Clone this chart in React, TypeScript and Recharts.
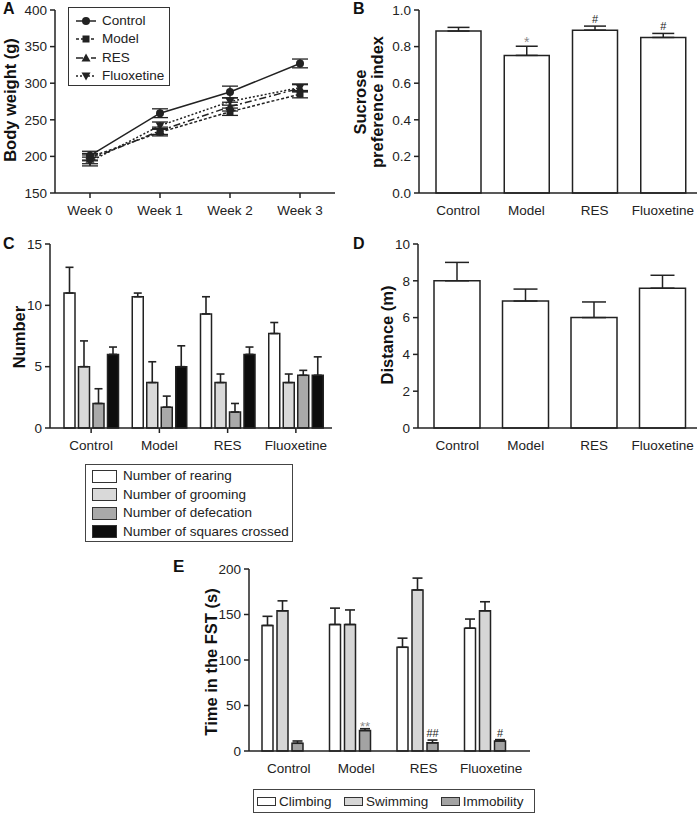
import React from "react";
import {
  LineChart,
  Line,
  BarChart,
  Bar,
  XAxis,
  YAxis,
  ErrorBar,
  Legend,
  LabelList,
} from "recharts";

const FONT = '"Liberation Sans", Arial, Helvetica, sans-serif';
const INK = "#222";

// A: body weight over weeks
const weeks = ["Week 0", "Week 1", "Week 2", "Week 3"];
const weightControl = [201, 259, 288, 327];
const weightControlErr = [6, 6, 8, 6];
const weightModel = [199, 233, 261, 285];
const weightModelErr = [5, 5, 5, 5];
const weightRes = [196, 235, 268, 293];
const weightResErr = [6, 5, 6, 5];
const weightFluox = [193, 242, 275, 294];
const weightFluoxErr = [6, 5, 5, 5];
const weightTicks = [150, 200, 250, 300, 350, 400];

const groups = ["Control", "Model", "RES", "Fluoxetine"];

// B: sucrose preference
const sucrose = [0.885, 0.752, 0.89, 0.85];
const sucroseErr = [0.02, 0.05, 0.022, 0.022];
const sucroseMarks = ["", "*", "#", "#"];
const sucroseTicks = [0, 0.2, 0.4, 0.6, 0.8, 1.0];

// C: open field counts
const rearing = [11, 10.7, 9.3, 7.7];
const rearingErr = [2.1, 0.3, 1.4, 0.9];
const grooming = [5, 3.7, 3.7, 3.7];
const groomingErr = [2.1, 1.7, 0.7, 0.7];
const defecation = [2, 1.7, 1.3, 4.3];
const defecationErr = [1.2, 0.9, 0.7, 0.4];
const squares = [6, 5, 6, 4.3];
const squaresErr = [0.6, 1.7, 0.6, 1.5];
const numberTicks = [0, 5, 10, 15];

// D: distance
const distance = [8, 6.9, 6.0, 7.6];
const distanceErr = [1.0, 0.65, 0.85, 0.7];
const distanceTicks = [0, 2, 4, 6, 8, 10];

// E: forced swim test
const climbing = [138, 139, 114, 135];
const climbingErr = [10, 18, 10, 10];
const swimming = [154, 139, 177, 154];
const swimmingErr = [11, 16, 13, 10];
const immobility = [8.5, 22.5, 9, 11];
const immobilityErr = [2.5, 2, 3, 1.5];
const immobilityMarks = ["", "**", "##", "#"];
const fstTicks = [0, 50, 100, 150, 200];

const weightSeries = [
  { key: "control", name: "Control", dash: undefined, shape: "circle", values: weightControl, errs: weightControlErr },
  { key: "model", name: "Model", dash: "3 2", shape: "square", values: weightModel, errs: weightModelErr },
  { key: "res", name: "RES", dash: "7 3 2 3", shape: "up", values: weightRes, errs: weightResErr },
  { key: "fluox", name: "Fluoxetine", dash: "2 2", shape: "down", values: weightFluox, errs: weightFluoxErr },
];

const behaviorSeries = [
  { key: "rearing", name: "Number of rearing", fill: "#ffffff", values: rearing, errs: rearingErr },
  { key: "grooming", name: "Number of grooming", fill: "#d9d9d9", values: grooming, errs: groomingErr },
  { key: "defecation", name: "Number of defecation", fill: "#a9a9a9", values: defecation, errs: defecationErr },
  { key: "squares", name: "Number of squares crossed", fill: "#0d0d0d", values: squares, errs: squaresErr },
];

const fstSeries = [
  { key: "climbing", name: "Climbing", fill: "#ffffff", values: climbing, errs: climbingErr },
  { key: "swimming", name: "Swimming", fill: "#d6d6d6", values: swimming, errs: swimmingErr },
  { key: "immobility", name: "Immobility", fill: "#a3a3a3", values: immobility, errs: immobilityErr },
];

const weightData = weeks.map((week, i) => {
  const row: Record<string, any> = { week };
  weightSeries.forEach((s) => {
    row[s.key] = s.values[i];
    row[s.key + "Err"] = s.errs[i];
  });
  return row;
});

const sucroseData = groups.map((name, i) => ({ name, value: sucrose[i], err: [0, sucroseErr[i]] }));
const distanceData = groups.map((name, i) => ({ name, value: distance[i], err: [0, distanceErr[i]] }));

// one-sided (upward) error bars for the grouped bar panels
const groupedRows = (series: { key: string; values: number[]; errs: number[] }[]) =>
  groups.map((name, i) => {
    const row: Record<string, any> = { name };
    series.forEach((s) => {
      row[s.key] = s.values[i];
      row[s.key + "Err"] = [0, s.errs[i]];
    });
    return row;
  });

const behaviorData = groupedRows(behaviorSeries);
const fstData = groupedRows(fstSeries);

const axisLine = { stroke: INK, strokeWidth: 1.5 };
const tickStyle = { fill: INK, fontSize: 13.5, fontFamily: FONT };

function Marker({ shape, cx, cy }: any) {
  if (shape === "circle") return <circle cx={cx} cy={cy} r={4} fill={INK} />;
  if (shape === "square") return <rect x={cx - 3.5} y={cy - 3.5} width={7} height={7} fill={INK} />;
  if (shape === "up")
    return <polygon points={`${cx},${cy - 4.5} ${cx + 4.5},${cy + 3.5} ${cx - 4.5},${cy + 3.5}`} fill={INK} />;
  return <polygon points={`${cx},${cy + 4.5} ${cx + 4.5},${cy - 3.5} ${cx - 4.5},${cy - 3.5}`} fill={INK} />;
}

// significance marks sit just above the error bar cap
const makeMarks =
  (errs: number[], marks: string[], o: { starSize: number; hashSize: number; starShift: number; hashShift: number }) =>
  (props: any) => {
    const vb = props.viewBox ?? props;
    const i = props.index;
    const mark = marks[i];
    if (!mark) return null;
    const v = Number(props.value);
    const ppu = vb.height / v;
    const top = vb.y - errs[i] * ppu;
    const star = mark.startsWith("*");
    return (
      <text
        key={`mark-${i}`}
        x={vb.x + vb.width / 2}
        y={top + (star ? o.starShift : -o.hashShift)}
        textAnchor="middle"
        fontFamily={FONT}
        fontSize={star ? o.starSize : o.hashSize}
        fill={star ? "#8a8a8a" : INK}
      >
        {mark}
      </text>
    );
  };

const WeightLegend = () => (
  <div
    style={{
      border: "1px solid #333",
      boxSizing: "border-box",
      width: 102,
      height: 79,
      padding: "4px 0 0 6px",
      fontFamily: FONT,
      fontSize: 13.5,
      color: INK,
      background: "#fff",
    }}
  >
    {weightSeries.map((s) => (
      <div key={s.key} style={{ display: "flex", alignItems: "center", height: 18.3, lineHeight: "18px" }}>
        <svg width={22} height={12} style={{ marginRight: 5 }}>
          <line x1={1} y1={6} x2={21} y2={6} stroke={INK} strokeWidth={1.5} strokeDasharray={s.dash} />
          <Marker shape={s.shape} cx={11} cy={6} />
        </svg>
        <span>{s.name}</span>
      </div>
    ))}
  </div>
);

const BehaviorLegend = () => (
  <div
    style={{
      border: "1px solid #444",
      boxSizing: "border-box",
      width: 208,
      height: 78,
      padding: "2px 0 0 6px",
      fontFamily: FONT,
      fontSize: 13.5,
      color: INK,
      background: "#fff",
    }}
  >
    {behaviorSeries.map((s) => (
      <div key={s.key} style={{ display: "flex", alignItems: "center", height: 18.5, lineHeight: "18px" }}>
        <span
          style={{
            display: "inline-block",
            width: 25,
            height: 13,
            boxSizing: "border-box",
            border: "1px solid #333",
            background: s.fill,
            marginRight: 6,
          }}
        />
        <span>{s.name}</span>
      </div>
    ))}
  </div>
);

const FstLegend = () => (
  <div
    style={{
      border: "1px solid #444",
      boxSizing: "border-box",
      width: 282,
      height: 24,
      padding: "0 0 0 3px",
      display: "flex",
      alignItems: "center",
      fontFamily: FONT,
      fontSize: 13.5,
      color: INK,
      background: "#fff",
    }}
  >
    {fstSeries.map((s) => (
      <div key={s.key} style={{ display: "flex", alignItems: "center", marginRight: 12.5 }}>
        <span
          style={{
            display: "inline-block",
            width: 19,
            height: 9,
            boxSizing: "border-box",
            border: "1px solid #333",
            background: s.fill,
            marginRight: 3,
          }}
        />
        <span>{s.name}</span>
      </div>
    ))}
  </div>
);

const AxisTitle = ({ x, y, children }: any) => (
  <div
    style={{
      position: "absolute",
      left: x,
      top: y,
      transform: "translate(-50%, -50%) rotate(-90deg)",
      whiteSpace: "nowrap",
      fontFamily: FONT,
      fontWeight: "bold",
      fontSize: 16.5,
      lineHeight: "17px",
      color: "#111",
      textAlign: "center",
    }}
  >
    {children}
  </div>
);

const PanelLetter = ({ x, y, size = 16, children }: any) => (
  <div
    style={{
      position: "absolute",
      left: x,
      top: y,
      fontFamily: FONT,
      fontWeight: "bold",
      fontSize: size,
      lineHeight: 1,
      color: "#111",
    }}
  >
    {children}
  </div>
);

const ShiftedTick = (props: any) => (
  <text x={props.x + 6} y={props.y} dy="0.71em" textAnchor="middle" {...tickStyle}>
    {props.payload.value}
  </text>
);

export default function App() {
  return (
    <div
      style={{
        position: "absolute",
        left: 0,
        top: 0,
        width: 700,
        height: 814,
        background: "#fff",
        overflow: "hidden",
      }}
    >
      {/* A */}
      <div style={{ position: "absolute", left: 0, top: 0 }}>
        <LineChart width={345} height={220} data={weightData} margin={{ top: 10, right: 10, left: 0, bottom: 0 }}>
          <XAxis
            dataKey="week"
            padding={{ left: 35, right: 35 }}
            height={27}
            tick={tickStyle}
            tickSize={5}
            tickMargin={7}
            axisLine={axisLine}
            tickLine={axisLine}
          />
          <YAxis
            domain={[150, 400]}
            ticks={weightTicks}
            interval={0}
            width={55}
            tick={tickStyle}
            tickSize={5}
            tickMargin={3}
            axisLine={axisLine}
            tickLine={axisLine}
          />
          {weightSeries.map((s) => (
            <Line
              key={s.key}
              dataKey={s.key}
              name={s.name}
              stroke={INK}
              strokeWidth={1.5}
              strokeDasharray={s.dash}
              isAnimationActive={false}
              dot={(p: any) => (
                <g key={`${s.key}-dot-${p.index}`}>
                  <Marker shape={s.shape} cx={p.cx} cy={p.cy} />
                </g>
              )}
            >
              <ErrorBar dataKey={s.key + "Err"} width={8} stroke={INK} strokeWidth={1.3} />
            </Line>
          ))}
          <Legend
            layout="vertical"
            align="center"
            verticalAlign="middle"
            content={WeightLegend}
            wrapperStyle={{ left: 68, top: 7, width: 102, height: 79 }}
          />
        </LineChart>
      </div>

      {/* B */}
      <div style={{ position: "absolute", left: 350, top: 0 }}>
        <BarChart width={350} height={220} data={sucroseData} margin={{ top: 10, right: 3, left: 0, bottom: 0 }}>
          <XAxis
            dataKey="name"
            padding={{ left: 5, right: 0 }}
            height={27}
            tick={tickStyle}
            tickSize={5}
            tickMargin={7}
            axisLine={axisLine}
            tickLine={false}
          />
          <YAxis
            domain={[0, 1]}
            ticks={sucroseTicks}
            interval={0}
            tickFormatter={(v: number) => v.toFixed(1)}
            width={69}
            tick={tickStyle}
            tickSize={5}
            tickMargin={3}
            axisLine={axisLine}
            tickLine={axisLine}
          />
          <Bar dataKey="value" fill="#fff" stroke={INK} strokeWidth={1.5} barSize={45} isAnimationActive={false}>
            <ErrorBar dataKey="err" width={11} stroke={INK} strokeWidth={1.5} />
            <LabelList
              dataKey="value"
              content={makeMarks(sucroseErr, sucroseMarks, { starSize: 14, hashSize: 11, starShift: 1, hashShift: 3 })}
            />
          </Bar>
        </BarChart>
      </div>

      {/* C */}
      <div style={{ position: "absolute", left: 0, top: 230 }}>
        <BarChart
          width={345}
          height={320}
          data={behaviorData}
          margin={{ top: 14, right: 13, left: 0, bottom: 95 }}
          barGap={3.5}
        >
          <XAxis
            dataKey="name"
            padding={{ left: 7, right: 2 }}
            height={27}
            tick={tickStyle}
            tickSize={5}
            tickMargin={7}
            axisLine={axisLine}
            tickLine={axisLine}
          />
          <YAxis
            domain={[0, 15]}
            ticks={numberTicks}
            interval={0}
            width={50}
            tick={tickStyle}
            tickSize={5}
            tickMargin={3}
            axisLine={axisLine}
            tickLine={axisLine}
          />
          {behaviorSeries.map((s) => (
            <Bar
              key={s.key}
              dataKey={s.key}
              name={s.name}
              fill={s.fill}
              stroke={INK}
              strokeWidth={1.5}
              barSize={11}
              isAnimationActive={false}
            >
              <ErrorBar dataKey={s.key + "Err"} width={4} stroke={INK} strokeWidth={1.6} />
            </Bar>
          ))}
          <Legend
            layout="vertical"
            align="center"
            verticalAlign="middle"
            content={BehaviorLegend}
            wrapperStyle={{ left: 85, top: 234, width: 208, height: 78 }}
          />
        </BarChart>
      </div>

      {/* D */}
      <div style={{ position: "absolute", left: 350, top: 230 }}>
        <BarChart width={350} height={240} data={distanceData} margin={{ top: 14, right: 3, left: 0, bottom: 15 }}>
          <XAxis
            dataKey="name"
            padding={{ left: 5, right: 0 }}
            height={27}
            tick={tickStyle}
            tickSize={5}
            tickMargin={7}
            axisLine={axisLine}
            tickLine={false}
          />
          <YAxis
            domain={[0, 10]}
            ticks={distanceTicks}
            interval={0}
            width={68}
            tick={tickStyle}
            tickSize={5}
            tickMargin={3}
            axisLine={axisLine}
            tickLine={axisLine}
          />
          <Bar dataKey="value" fill="#fff" stroke={INK} strokeWidth={1.5} barSize={46} isAnimationActive={false}>
            <ErrorBar dataKey="err" width={12} stroke={INK} strokeWidth={1.5} />
          </Bar>
        </BarChart>
      </div>

      {/* E */}
      <div style={{ position: "absolute", left: 190, top: 555 }}>
        <BarChart
          width={350}
          height={259}
          data={fstData}
          margin={{ top: 14, right: 10, left: 0, bottom: 36 }}
          barGap={4}
        >
          <XAxis
            dataKey="name"
            padding={{ left: 0, right: 11 }}
            height={27}
            tick={<ShiftedTick />}
            tickSize={5}
            tickMargin={7}
            axisLine={axisLine}
            tickLine={false}
          />
          <YAxis
            domain={[0, 200]}
            ticks={fstTicks}
            interval={0}
            width={59}
            tick={tickStyle}
            tickSize={5}
            tickMargin={3}
            axisLine={axisLine}
            tickLine={axisLine}
          />
          {fstSeries.map((s) => (
            <Bar
              key={s.key}
              dataKey={s.key}
              name={s.name}
              fill={s.fill}
              stroke={INK}
              strokeWidth={1.5}
              barSize={11}
              isAnimationActive={false}
            >
              <ErrorBar dataKey={s.key + "Err"} width={5} stroke={INK} strokeWidth={1.6} />
              {s.key === "immobility" && (
                <LabelList
                  dataKey={s.key}
                  content={makeMarks(immobilityErr, immobilityMarks, {
                    starSize: 13,
                    hashSize: 11,
                    starShift: 2,
                    hashShift: 3,
                  })}
                />
              )}
            </Bar>
          ))}
          <Legend
            layout="vertical"
            align="center"
            verticalAlign="middle"
            content={FstLegend}
            wrapperStyle={{ left: 63, top: 234, width: 282, height: 24 }}
          />
        </BarChart>
      </div>

      <AxisTitle x={10} y={100}>Body weight (g)</AxisTitle>
      <AxisTitle x={369} y={102}>
        Sucrose
        <br />
        preference index
      </AxisTitle>
      <AxisTitle x={19} y={337}>Number</AxisTitle>
      <AxisTitle x={387} y={335}>Distance (m)</AxisTitle>
      <AxisTitle x={211} y={662}>Time in the FST (s)</AxisTitle>

      <PanelLetter x={3} y={1}>A</PanelLetter>
      <PanelLetter x={353} y={1}>B</PanelLetter>
      <PanelLetter x={3} y={236}>C</PanelLetter>
      <PanelLetter x={353} y={236}>D</PanelLetter>
      <PanelLetter x={173} y={558} size={17}>E</PanelLetter>
    </div>
  );
}
